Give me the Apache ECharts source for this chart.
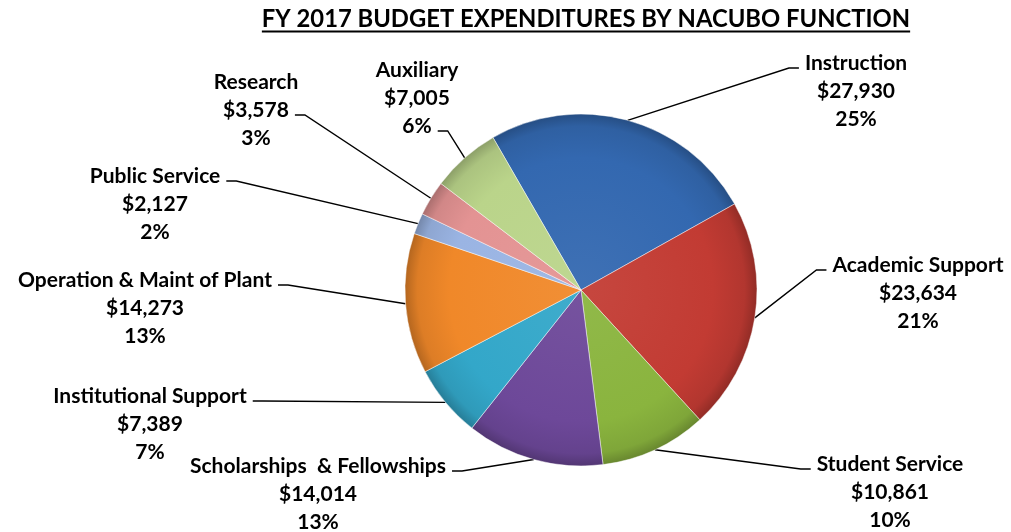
<!DOCTYPE html>
<html>
<head>
<meta charset="utf-8">
<title>FY 2017 Budget Expenditures by NACUBO Function</title>
<script src="https://cdn.jsdelivr.net/npm/echarts@6/dist/echarts.min.js"></script>
<style>
  html, body { margin: 0; padding: 0; background: #ffffff; }
  #chart { width: 1011px; height: 532px; }
</style>
</head>
<body>
<div id="chart"></div>
<script>
// Budget functions, in drawing order (clockwise from the top-left)
const categories = [
  'Instruction',
  'Academic Support',
  'Student Service',
  'Scholarships  & Fellowships',
  'Institutional Support',
  'Operation & Maint of Plant',
  'Public Service',
  'Research',
  'Auxiliary'
];
// FY 2017 expenditures (thousands of dollars)
const amounts = [27930, 23634, 10861, 14014, 7389, 14273, 2127, 3578, 7005];
// Slice colours
const sliceColors = ['#3368b0', '#c23b33', '#8ab43e', '#6d4899', '#33a7c9', '#f08829', '#9ab4e3', '#e39393', '#bad48a'];

const titleText = 'FY 2017 BUDGET EXPENDITURES BY NACUBO FUNCTION';

// Where each callout sits: centre x, first-line middle y, which side the leader joins, and which text line
const calloutSpots = [
  { x: 856, y: 63,  side: 'left',  line: 0 },
  { x: 918, y: 265, side: 'left',  line: 0 },
  { x: 890, y: 464, side: 'left',  line: 0 },
  { x: 318, y: 466, side: 'right', line: 0 },
  { x: 150, y: 396, side: 'right', line: 0 },
  { x: 145, y: 280, side: 'right', line: 0 },
  { x: 155, y: 176, side: 'right', line: 0 },
  { x: 256, y: 82,  side: 'right', line: 1 },
  { x: 417, y: 70,  side: 'right', line: 2 }
];

const FONT = 'Lato';
const LABEL_SIZE = 21;
const LINE_H = 28;
const TITLE_SIZE = 23.8;
const CX = 581, CY = 290, R = 176;

const total = amounts.reduce((a, b) => a + b, 0);
const fmtMoney = v => '$' + v.toLocaleString('en-US');
const fmtPct = v => Math.round(v / total * 100) + '%';

const measureCtx = document.createElement('canvas').getContext('2d');
function textWidth(str, size) {
  measureCtx.font = 'bold ' + size + 'px ' + FONT;
  return measureCtx.measureText(str).width;
}

function shade(hex, amt) {
  const n = parseInt(hex.slice(1), 16);
  let r = (n >> 16) & 255, g = (n >> 8) & 255, b = n & 255;
  const f = c => Math.max(0, Math.min(255, Math.round(amt >= 0 ? c + (255 - c) * amt : c * (1 + amt))));
  return 'rgb(' + f(r) + ',' + f(g) + ',' + f(b) + ')';
}

function sliceFill(base) {
  return {
    type: 'radial', x: CX, y: CY, r: R, global: true,
    colorStops: [
      { offset: 0, color: shade(base, 0.06) },
      { offset: 0.75, color: base },
      { offset: 0.93, color: shade(base, -0.08) },
      { offset: 1, color: shade(base, -0.25) }
    ]
  };
}

const pieData = categories.map((name, i) => ({
  name: name,
  value: amounts[i],
  itemStyle: { color: sliceFill(sliceColors[i]) }
}));

const chart = echarts.init(document.getElementById('chart'), null, { renderer: 'canvas' });

const tw = textWidth(titleText, TITLE_SIZE);
const titleCx = 586;

chart.setOption({
  animation: false,
  backgroundColor: '#ffffff',
  graphic: [
    {
      type: 'text',
      x: titleCx, y: 19,
      style: {
        text: titleText,
        font: 'bold ' + TITLE_SIZE + 'px ' + FONT,
        fill: '#000000',
        align: 'center',
        verticalAlign: 'middle'
      }
    },
    {
      type: 'line',
      shape: { x1: titleCx - tw / 2, y1: 31.5, x2: titleCx + tw / 2, y2: 31.5 },
      style: { stroke: '#000000', lineWidth: 2 }
    }
  ],
  series: [{
    type: 'pie',
    center: [CX, CY],
    radius: R,
    startAngle: 120,
    clockwise: true,
    avoidLabelOverlap: false,
    data: pieData,
    itemStyle: {
      borderColor: 'rgba(255,255,255,0.45)',
      borderWidth: 1
    },
    emphasis: { disabled: true },
    label: {
      show: true,
      position: 'outside',
      formatter: p => p.name + '\n' + fmtMoney(p.value) + '\n' + fmtPct(p.value),
      fontFamily: FONT,
      fontWeight: 'bold',
      fontSize: LABEL_SIZE,
      lineHeight: LINE_H,
      color: '#000000',
      align: 'center'
    },
    labelLine: {
      show: true,
      length: 10,
      length2: 10,
      lineStyle: { color: '#000000', width: 1.4 }
    },
    labelLayout: function (params) {
      const i = params.dataIndex;
      const spot = calloutSpots[i];
      const lines = [categories[i], fmtMoney(amounts[i]), fmtPct(amounts[i])];
      const w = textWidth(lines[spot.line], LABEL_SIZE);
      const ly = spot.y + spot.line * LINE_H + 5;
      const dir = spot.side === 'left' ? -1 : 1;
      const endX = spot.x + dir * (w / 2 + 6);
      const bendX = endX + dir * 10;
      const start = params.labelLinePoints ? params.labelLinePoints[0] : [CX, CY];
      return {
        x: spot.x,
        y: spot.y - LINE_H / 2,
        align: 'center',
        verticalAlign: 'top',
        labelLinePoints: [start, [bendX, ly], [endX, ly]]
      };
    }
  }]
});
</script>
</body>
</html>
